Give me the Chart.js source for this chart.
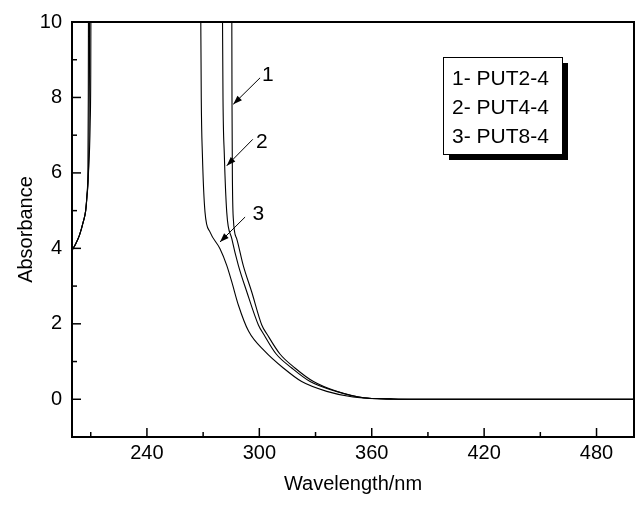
<!DOCTYPE html>
<html>
<head>
<meta charset="utf-8">
<script src="https://cdn.jsdelivr.net/npm/chart.js@4.4.1/dist/chart.umd.min.js"></script>
<style>
  html, body { margin: 0; padding: 0; background: #fff; }
</style>
</head>
<body>
<canvas id="uv-chart" width="643" height="511"></canvas>
<script>
// ---- data (wavelength nm, absorbance) ----
const put24 = [
  [200, 3.95], [202, 4.12], [204, 4.35], [206, 4.7], [207.3, 5.0], [208, 5.4],
  [208.8, 6.0], [209.7, 7.3], [210.0, 8.6], [210.1, 10.5], [245, null],
  [285.3, 10.5], [285.4, 8], [285.6, 6], [286.1, 4.8], [287.9, 4.26], [291.4, 3.55],
  [295.9, 2.85], [301.3, 1.97], [304.3, 1.71], [311, 1.2], [319, 0.83], [328.9, 0.47],
  [341.3, 0.21], [355.6, 0.04], [370, 0.01], [380, 0], [500, 0]
];
const put44 = [
  [200, 3.95], [202, 4.12], [204, 4.35], [206, 4.7], [207.3, 5.0], [208, 5.4],
  [208.7, 5.9], [209.1, 7.0], [209.3, 8.6], [209.4, 10.5], [245, null],
  [280.3, 10.5], [280.6, 8], [281.3, 6.5], [282.6, 4.96], [285.3, 4.26], [288.8, 3.55],
  [293.3, 2.85], [299.5, 1.97], [302.5, 1.71], [309, 1.2], [317.3, 0.83], [327.1, 0.47],
  [341, 0.21], [355.6, 0.04], [370, 0.01], [380, 0], [500, 0]
];
const put84 = [
  [200, 3.95], [202, 4.12], [204, 4.35], [206, 4.7], [207.3, 5.0], [208, 5.4],
  [208.5, 6.2], [208.7, 8], [208.8, 10.5], [240, null],
  [268.7, 10.5], [269, 8], [269.6, 6.5], [271, 4.96], [273.7, 4.43], [279, 3.99],
  [282.6, 3.55], [285.3, 3.11], [288.8, 2.5], [294.3, 1.8], [303, 1.27], [312.8, 0.83],
  [322.6, 0.47], [336, 0.21], [350, 0.06], [365, 0.01], [380, 0], [500, 0]
];

const legendLines = ["1- PUT2-4", "2- PUT4-4", "3- PUT8-4"];

// tick values
const xMajorTicks = [240, 300, 360, 420, 480];
const xMinorTicks = [210, 270, 330, 390, 450];
const yMajorTicks = [0, 2, 4, 6, 8, 10];
const yMinorTicks = [1, 3, 5, 7, 9];

// curve labels with arrows (data coords)
const arrowLabels = ["1", "2", "3"];
const arrowFrom = [[300.4, 8.52], [296.5, 6.89], [292.4, 4.83]];
const arrowTo = [[286.1, 7.82], [282.6, 6.19], [279.0, 4.17]];
const labelAt = [[304.6, 8.58], [301.3, 6.81], [299.5, 4.91]];

const FONT = "'Liberation Sans', Arial, sans-serif";

function toXY(pts) {
  return pts.map(p => ({ x: p[0], y: p[1] }));
}

/* -----------------------------------------------
   Frame, inward ticks, arrows and boxed legend
------------------------------------------------ */
const decorPlugin = {
  id: "decor",
  afterDraw(chart) {
    const { ctx, chartArea: a, scales } = chart;
    const xs = scales.x, ys = scales.y;
    ctx.save();
    ctx.strokeStyle = "#000";
    ctx.lineWidth = 2;
    ctx.strokeRect(a.left, a.top, a.right - a.left, a.bottom - a.top);

    ctx.lineWidth = 1.5;
    const seg = (x1, y1, x2, y2) => {
      ctx.beginPath(); ctx.moveTo(x1, y1); ctx.lineTo(x2, y2); ctx.stroke();
    };
    xMajorTicks.forEach(v => { const p = xs.getPixelForValue(v); seg(p, a.bottom, p, a.bottom - 9); });
    xMinorTicks.forEach(v => { const p = xs.getPixelForValue(v); seg(p, a.bottom, p, a.bottom - 5); });
    yMajorTicks.forEach(v => { const p = ys.getPixelForValue(v); seg(a.left, p, a.left + 9, p); });
    yMinorTicks.forEach(v => { const p = ys.getPixelForValue(v); seg(a.left, p, a.left + 5, p); });

    // arrows pointing at the curves
    ctx.lineWidth = 1;
    ctx.fillStyle = "#000";
    ctx.font = "21px " + FONT;
    ctx.textAlign = "center";
    ctx.textBaseline = "middle";
    arrowLabels.forEach((lab, i) => {
      const x1 = xs.getPixelForValue(arrowFrom[i][0]), y1 = ys.getPixelForValue(arrowFrom[i][1]);
      const x2 = xs.getPixelForValue(arrowTo[i][0]), y2 = ys.getPixelForValue(arrowTo[i][1]);
      seg(x1, y1, x2, y2);
      const ang = Math.atan2(y2 - y1, x2 - x1);
      const len = 9, hw = 3.2;
      ctx.beginPath();
      ctx.moveTo(x2, y2);
      ctx.lineTo(x2 - len * Math.cos(ang) + hw * Math.sin(ang), y2 - len * Math.sin(ang) - hw * Math.cos(ang));
      ctx.lineTo(x2 - len * Math.cos(ang) - hw * Math.sin(ang), y2 - len * Math.sin(ang) + hw * Math.cos(ang));
      ctx.closePath();
      ctx.fill();
      ctx.fillText(lab, xs.getPixelForValue(labelAt[i][0]), ys.getPixelForValue(labelAt[i][1]));
    });

    // legend box with drop shadow
    const bx = 443, by = 57, bw = 119, bh = 97;
    ctx.fillRect(bx + 6, by + 6, bw, bh);
    ctx.fillStyle = "#fff";
    ctx.fillRect(bx, by, bw, bh);
    ctx.strokeRect(bx + 0.5, by + 0.5, bw, bh);
    ctx.fillStyle = "#000";
    ctx.font = "21px " + FONT;
    ctx.textAlign = "left";
    legendLines.forEach((t, i) => ctx.fillText(t, bx + 9, by + 22 + i * 29));
    ctx.restore();
  }
};

const lineStyle = {
  borderColor: "#000",
  borderWidth: 1.1,
  pointRadius: 0,
  fill: false,
  cubicInterpolationMode: "monotone",
  spanGaps: false
};

new Chart(document.getElementById("uv-chart"), {
  type: "line",
  data: {
    datasets: [
      { label: legendLines[0], data: toXY(put24), ...lineStyle },
      { label: legendLines[1], data: toXY(put44), ...lineStyle },
      { label: legendLines[2], data: toXY(put84), ...lineStyle }
    ]
  },
  options: {
    responsive: false,
    animation: false,
    devicePixelRatio: 1,
    layout: { padding: { top: 19, right: 9, left: 0, bottom: 0 } },
    plugins: { legend: { display: false }, tooltip: { enabled: false } },
    scales: {
      x: {
        type: "linear",
        min: 200,
        max: 500,
        afterBuildTicks: s => { s.ticks = xMajorTicks.map(v => ({ value: v })); },
        afterFit: s => { s.height = 74; },
        grid: { display: false, drawTicks: false },
        border: { display: false },
        ticks: { color: "#000", font: { family: FONT, size: 20 }, padding: 4, maxRotation: 0 },
        title: { display: true, text: "Wavelength/nm", color: "#000", font: { family: FONT, size: 20 }, padding: { top: 4, bottom: 15 } }
      },
      y: {
        min: -1,
        max: 10,
        afterBuildTicks: s => { s.ticks = yMajorTicks.map(v => ({ value: v })); },
        afterFit: s => { s.width = 72; },
        grid: { display: false, drawTicks: false },
        border: { display: false },
        ticks: { color: "#000", font: { family: FONT, size: 20 }, padding: 10 },
        title: { display: true, text: "Absorbance", color: "#000", font: { family: FONT, size: 20 }, padding: { top: 14, bottom: 4 } }
      }
    }
  },
  plugins: [decorPlugin]
});
</script>
</body>
</html>
